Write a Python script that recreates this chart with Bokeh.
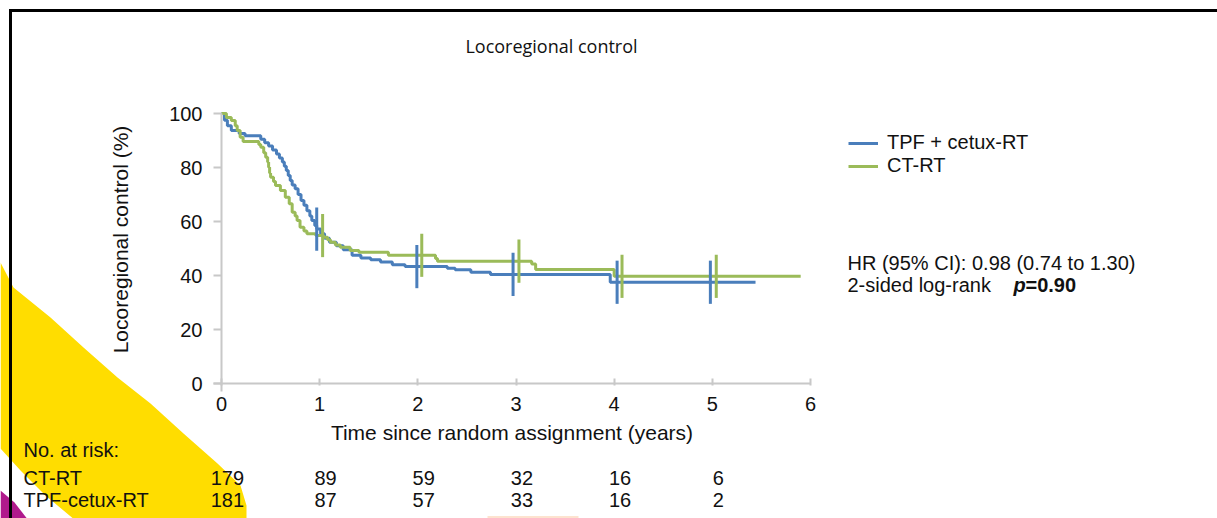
from bokeh.plotting import figure
from bokeh.models import (Range1d, Label, Legend, LegendItem, PolyAnnotation,
                          BoxAnnotation, FixedTicker, LinearAxis)
from bokeh.embed import file_html
from bokeh.resources import INLINE
import numpy as np

# ---------------- data ----------------
tpf_t = [0, 0.03, 0.06, 0.10, 0.18, 0.24, 0.40, 0.44, 0.48, 0.52, 0.56, 0.59, 0.62,
         0.64, 0.66, 0.68, 0.70, 0.72, 0.75, 0.78, 0.81, 0.84, 0.87, 0.90, 0.92,
         0.95, 0.97, 1.01, 1.05, 1.10, 1.17, 1.24, 1.33, 1.42, 1.52, 1.62, 1.74,
         1.87, 2.30, 2.38, 2.54, 2.74, 3.96, 5.44]
tpf_s = [100, 97.5, 95.5, 93.7, 92.6, 91.8, 90.5, 89.2, 88.0, 86.5, 85.0, 83.5, 82.0,
         80.5, 78.9, 77.0, 75.2, 73.5, 72.1, 70.0, 67.8, 66.0, 64.0, 62.0, 60.4,
         58.5, 57.2, 55.5, 53.8, 52.3, 51.0, 49.5, 47.5, 46.5, 45.8, 45.0, 44.0,
         43.3, 42.7, 42.1, 41.2, 40.4, 37.5, 37.5]

ctrt_t = [0, 0.05, 0.10, 0.14, 0.16, 0.19, 0.22, 0.38, 0.40, 0.43, 0.45, 0.47, 0.48,
          0.49, 0.50, 0.53, 0.55, 0.60, 0.65, 0.69, 0.72, 0.75, 0.77, 0.80, 0.84,
          0.87, 0.96, 1.04, 1.08, 1.11, 1.16, 1.21, 1.31, 1.40, 1.70, 2.18, 2.20,
          3.16, 3.20, 4.00, 5.90]
ctrt_s = [100, 98.5, 97.4, 95.5, 93.7, 91.2, 89.6, 88.5, 87.5, 85.5, 83.8, 82.0, 80.1,
          78.0, 76.4, 74.8, 73.3, 71.5, 69.0, 66.6, 63.4, 62.0, 60.4, 57.9, 56.5,
          55.5, 54.8, 54.2, 53.2, 52.3, 51.3, 50.5, 49.3, 48.6, 47.5, 46.3, 45.3,
          44.3, 42.2, 39.7, 39.7]

tpf_censor = [0.97, 1.99, 2.97, 4.03, 4.98]
ctrt_censor = [1.03, 2.04, 3.03, 4.08, 5.04]

risk_times = [0, 1, 2, 3, 4, 5]
risk_ctrt = [179, 89, 59, 32, 16, 6]
risk_tpf = [181, 87, 57, 33, 16, 2]

x_ticks = [0, 1, 2, 3, 4, 5, 6]
y_ticks = [0, 20, 40, 60, 80, 100]

BLUE = "#4a7ebb"
GREEN = "#9bbb59"
AXIS = "#c8c8c8"
FONT = "Liberation Sans"
INK = "#111111"

# ---------------- geometry (pixels of the reference picture) ----------------
W, H = 1217, 518
FL, FR, FB = 221, 810, 383      # x=0, x=6, y=0 positions
PX_X = (FR - FL) / 6.0
PX_Y = 2.7


def X(px):
    return (px - FL) / PX_X


def Y(py):
    return (FB - py) / PX_Y


p = figure(width=W, height=H, title=None,
           x_range=Range1d(X(0), X(W)), y_range=Range1d(Y(H), Y(0)),
           x_axis_location=None, y_axis_location=None,
           output_backend="svg", toolbar_location=None,
           min_border_left=0, min_border_right=0, min_border_top=0, min_border_bottom=0)
p.outline_line_color = None
p.xgrid.visible = False
p.ygrid.visible = False
p.background_fill_color = "white"
p.border_fill_color = "white"

# ---------------- slide decorations ----------------
yellow_x = [0, 13, 50, 83, 117, 150, 183, 217, 240, 246, 246, 75, 45, 20, 0]
yellow_y = [262, 287, 317, 347, 377, 403, 433, 463, 485, 505, 520, 520, 495, 470, 448]
p.add_layout(PolyAnnotation(xs=[X(v) for v in yellow_x], ys=[Y(v) for v in yellow_y],
                            fill_color="#ffdd00", fill_alpha=1, line_color=None,
                            level="underlay"))
mag_x = [0, 14, 28, 0]
mag_y = [490, 502, 520, 520]
p.add_layout(PolyAnnotation(xs=[X(v) for v in mag_x], ys=[Y(v) for v in mag_y],
                            fill_color="#b0198c", fill_alpha=1, line_color=None,
                            level="underlay"))
p.add_layout(BoxAnnotation(left=X(487), right=X(578), top=Y(515.5), bottom=Y(520),
                           fill_color="#fde3cf", fill_alpha=1, line_color=None,
                           level="underlay"))
p.add_layout(BoxAnnotation(left=X(8.5), right=X(1220), top=Y(8.5), bottom=Y(11.5),
                           fill_color="black", fill_alpha=1, line_color=None))
p.add_layout(BoxAnnotation(left=X(8.5), right=X(11.5), top=Y(8.5), bottom=Y(520),
                           fill_color="black", fill_alpha=1, line_color=None))

# ---------------- curves ----------------
r_tpf = p.step(tpf_t, tpf_s, mode="after", line_color=BLUE, line_width=3)
r_ctrt = p.step(ctrt_t, ctrt_s, mode="after", line_color=GREEN, line_width=3)


def surv_at(ts, ss, c):
    idx = np.searchsorted(np.array(ts), np.array(c), side="right") - 1
    return np.array(ss)[idx]


HALF = 8.0
s_b = surv_at(tpf_t, tpf_s, tpf_censor)
p.segment(x0=tpf_censor, y0=s_b - HALF, x1=tpf_censor, y1=s_b + HALF,
          line_color=BLUE, line_width=3)
s_g = surv_at(ctrt_t, ctrt_s, ctrt_censor)
p.segment(x0=ctrt_censor, y0=s_g - HALF, x1=ctrt_censor, y1=s_g + HALF,
          line_color=GREEN, line_width=3)

# ---------------- axes ----------------
xa = LinearAxis(fixed_location=0, ticker=FixedTicker(ticks=x_ticks),
                bounds=(X(213), 6),
                axis_label="Time since random assignment (years)")
ya = LinearAxis(fixed_location=0, ticker=FixedTicker(ticks=y_ticks),
                bounds=(Y(391), 100))
for ax in (xa, ya):
    ax.axis_line_color = AXIS
    ax.axis_line_width = 2
    ax.major_tick_line_color = AXIS
    ax.major_tick_line_width = 2
    ax.minor_tick_line_color = None
    ax.major_label_text_font = FONT
    ax.major_label_text_font_size = "20px"
    ax.major_label_text_color = INK
    ax.axis_label_text_font = FONT
    ax.axis_label_text_font_size = "21px"
    ax.axis_label_text_font_style = "normal"
    ax.axis_label_text_color = INK
ya.major_tick_out = 8
ya.major_tick_in = 0
ya.major_label_standoff = 11
xa.major_tick_out = 2
xa.major_tick_in = 5
xa.major_label_standoff = 11
xa.axis_label_standoff = 7
p.add_layout(xa, "below")
p.add_layout(ya, "left")

# ---------------- legend ----------------
legend = Legend(items=[LegendItem(label="TPF + cetux-RT", renderers=[r_tpf]),
                       LegendItem(label="CT-RT", renderers=[r_ctrt])],
                location=(848, H - 177), glyph_width=30, glyph_height=22,
                label_height=22, label_standoff=9, spacing=0, padding=0, margin=0,
                border_line_color=None, background_fill_alpha=0,
                label_text_font=FONT, label_text_font_size="20px",
                label_text_color=INK)
p.add_layout(legend)


def text(px, py, s, size="20px", font=FONT, align="left", style="normal", angle=0.0):
    p.add_layout(Label(x=X(px), y=Y(py), text=s, text_font=font, text_font_size=size,
                       text_align=align, text_baseline="middle", text_font_style=style,
                       text_color=INK, angle=angle))


text(551, 45, "Locoregional control", size="18px", font="Open Sans", align="center")
text(120, 239, "Locoregional control (%)", size="21px", align="center", angle=np.pi / 2)
text(847, 262, "HR (95% CI): 0.98 (0.74 to 1.30)")
text(847, 284, "2-sided log-rank")
text(1013, 284, "p", style="bold italic")
text(1025, 284, "=0.90", style="bold")

text(23, 449, "No. at risk:")
text(23, 477, "CT-RT")
text(23, 499, "TPF-cetux-RT")
for t, a, b in zip(risk_times, risk_ctrt, risk_tpf):
    p.add_layout(Label(x=t + 0.06, y=Y(477), text=str(a), text_font=FONT,
                       text_font_size="20px", text_baseline="middle",
                       text_align="center", text_color=INK))
    p.add_layout(Label(x=t + 0.06, y=Y(499), text=str(b), text_font=FONT,
                       text_font_size="20px", text_baseline="middle",
                       text_align="center", text_color=INK))

open("out.html", "w").write(file_html(p, INLINE))
